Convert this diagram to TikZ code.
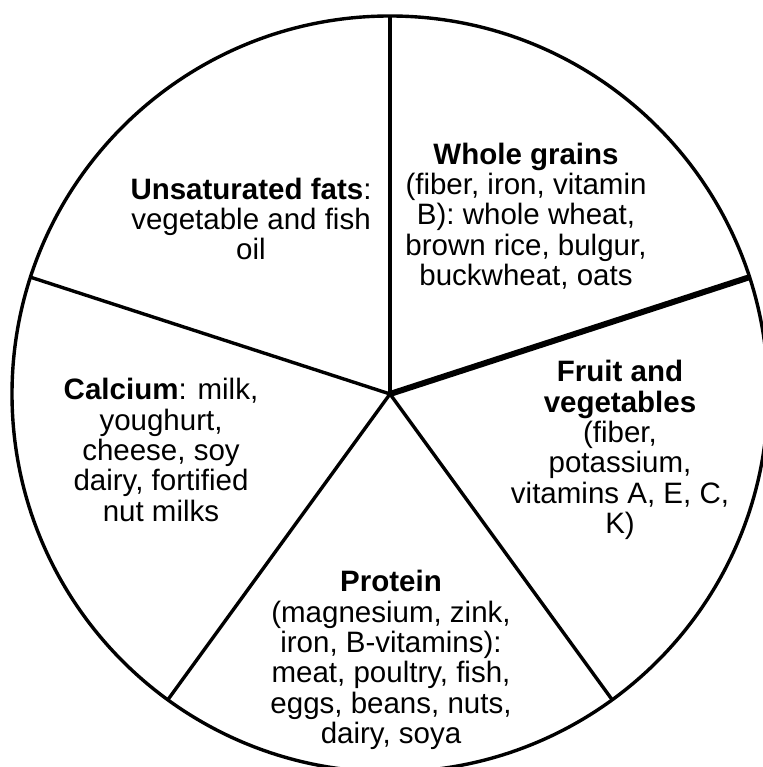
\documentclass[tikz,border=0pt]{standalone}
\usepackage{fontspec}
\setmainfont{Liberation Sans}
\usepackage{tikz}
\usetikzlibrary{positioning}

\begin{document}
\begin{tikzpicture}[x=1pt,y=1pt,
  rim/.style={line width=3.4pt},
  spoke/.style={line width=3.4pt},
  wedgetext/.style={align=center,inner sep=0pt,font=\fontsize{29.5}{30.3}\selectfont}]
\useasboundingbox (0,0) rectangle (762,767);
% plate
\coordinate (mid) at (390,373);
\draw[rim] (mid) circle[radius=378pt];
\path (mid) ++(90:378) coordinate (rimtop)
      (mid) ++(18:378) coordinate (rimright)
      (mid) ++(-54:378) coordinate (rimlowright)
      (mid) ++(-126:378) coordinate (rimlowleft)
      (mid) ++(162:378) coordinate (rimleft);
\draw[spoke] (mid) -- (rimtop);
\draw[spoke,line width=6pt] (mid) -- (rimright);
\draw[spoke] (mid) -- (rimlowright);
\draw[spoke] (mid) -- (rimlowleft);
\draw[spoke] (mid) -- (rimleft);
% wedges
\node[wedgetext] (fats) at (251,548) {\textbf{Unsaturated fats}:\\vegetable and fish\\oil};
\node[wedgetext] (grains) at (526,551) {\textbf{Whole grains}\\(fiber, iron, vitamin\\B): whole wheat,\\brown rice, bulgur,\\buckwheat, oats};
\node[wedgetext] (fruit) at (620,317) {\textbf{Fruit and}\\\textbf{vegetables}\\(fiber,\\potassium,\\vitamins A, E, C,\\K)};
\node[wedgetext] (protein) at (391,107) {\textbf{Protein}\\(magnesium, zink,\\iron, B-vitamins):\\meat, poultry, fish,\\eggs, beans, nuts,\\dairy, soya};
\node[wedgetext] (calcium) at (161,317) {\textbf{Calcium}: milk,\\youghurt,\\cheese, soy\\dairy, fortified\\nut milks};
\end{tikzpicture}
\end{document}
